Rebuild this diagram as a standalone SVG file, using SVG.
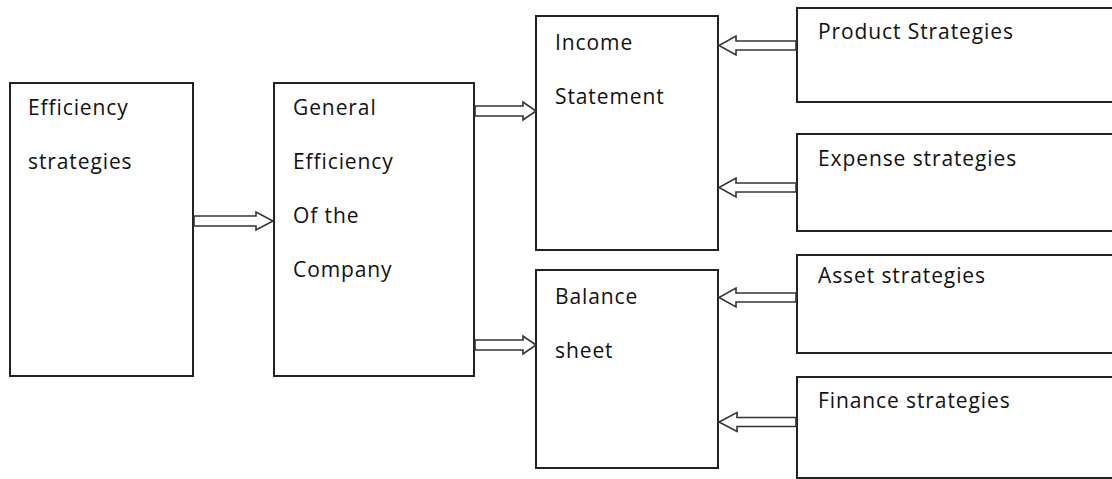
<svg xmlns="http://www.w3.org/2000/svg" width="1112" height="479" viewBox="0 0 1112 479">
  <style>
    .box { fill: #ffffff; stroke: #222222; stroke-width: 2; }
    .lbl { font-family: "Open Sans", Lato, "Liberation Sans", sans-serif; font-size: 21px; letter-spacing: 0.9px; fill: #111111; }
    .arrow { fill: #ffffff; stroke: #333333; stroke-width: 1.6; stroke-linejoin: miter; }
  </style>
  <rect width="1112" height="479" fill="#ffffff"/>

  <g id="efficiency-strategies">
    <rect class="box" x="10" y="83" width="183" height="293"/>
    <text class="lbl" x="28" y="115">Efficiency</text>
    <text class="lbl" x="28" y="169">strategies</text>
  </g>

  <g id="general-efficiency">
    <rect class="box" x="274" y="83" width="200" height="293"/>
    <text class="lbl" x="293" y="115">General</text>
    <text class="lbl" x="293" y="169">Efficiency</text>
    <text class="lbl" x="293" y="223">Of the</text>
    <text class="lbl" x="293" y="277">Company</text>
  </g>

  <g id="income-statement">
    <rect class="box" x="536" y="16" width="182" height="234"/>
    <text class="lbl" x="555" y="50">Income</text>
    <text class="lbl" x="555" y="104">Statement</text>
  </g>

  <g id="balance-sheet">
    <rect class="box" x="536" y="270" width="182" height="198"/>
    <text class="lbl" x="555" y="304">Balance</text>
    <text class="lbl" x="555" y="358">sheet</text>
  </g>

  <g id="product-strategies">
    <rect class="box" x="797" y="8" width="330" height="94"/>
    <text class="lbl" x="818" y="39">Product Strategies</text>
  </g>

  <g id="expense-strategies">
    <rect class="box" x="797" y="134" width="330" height="97"/>
    <text class="lbl" x="818" y="166">Expense strategies</text>
  </g>

  <g id="asset-strategies">
    <rect class="box" x="797" y="255" width="330" height="98"/>
    <text class="lbl" x="818" y="283">Asset strategies</text>
  </g>

  <g id="finance-strategies">
    <rect class="box" x="797" y="377" width="330" height="101"/>
    <text class="lbl" x="818" y="408">Finance strategies</text>
  </g>

  <g id="connectors">
    <!-- hollow block arrows pointing into the statements -->
    <path class="arrow" d="M 194 216 L 256 216 L 256 212 L 273 221 L 256 230 L 256 226 L 194 226 Z"/>
    <path class="arrow" d="M 475 106 L 523 106 L 523 102 L 536 111 L 523 120 L 523 116 L 475 116 Z"/>
    <path class="arrow" d="M 475 340 L 523 340 L 523 336 L 536 345 L 523 354 L 523 350 L 475 350 Z"/>
    <!-- strategy boxes feeding back to the left -->
    <path class="arrow" d="M 796 41 L 736 41 L 736 36 L 719 45.5 L 736 55 L 736 50 L 796 50 Z"/>
    <path class="arrow" d="M 796 183 L 736 183 L 736 178 L 719 187.5 L 736 197 L 736 192 L 796 192 Z"/>
    <path class="arrow" d="M 796 293 L 736 293 L 736 288 L 719 297.5 L 736 307 L 736 302 L 796 302 Z"/>
    <path class="arrow" d="M 796 417.5 L 737 417.5 L 737 412.5 L 719 422 L 737 431.5 L 737 426.5 L 796 426.5 Z"/>
  </g>
</svg>
